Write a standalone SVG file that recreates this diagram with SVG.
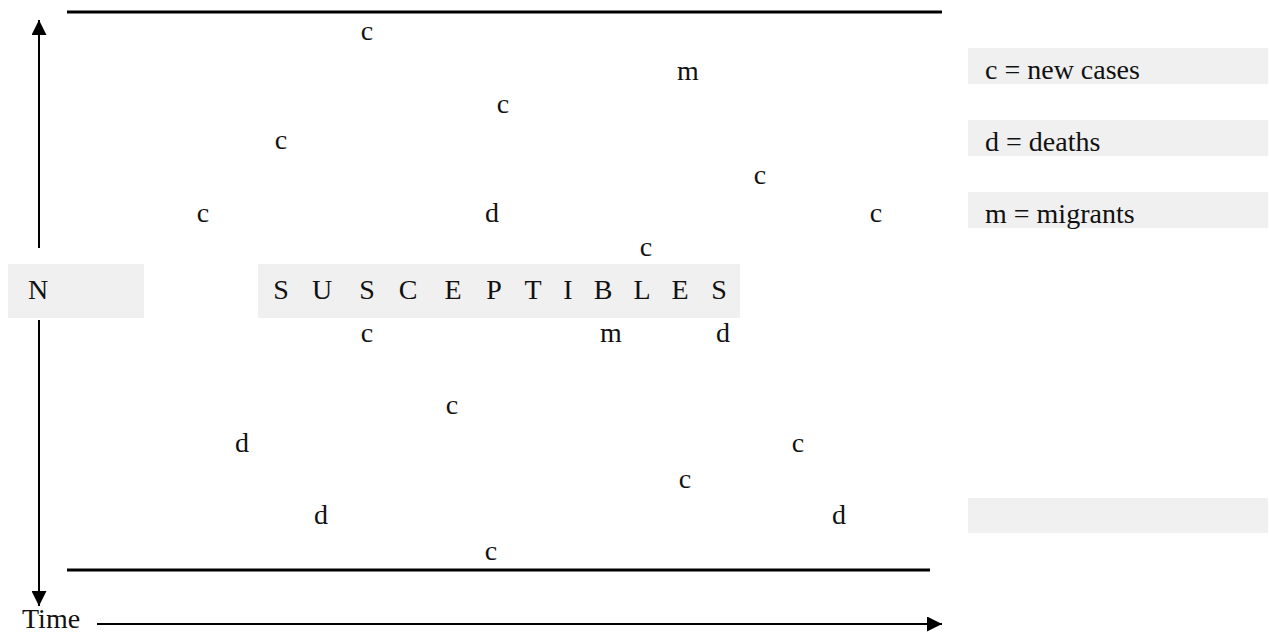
<svg xmlns="http://www.w3.org/2000/svg" width="1269" height="636" viewBox="0 0 1269 636">
<defs>
<style>
text{font-family:"Liberation Serif","Times New Roman",serif;font-size:28px;fill:#111}
.m{text-anchor:middle}
.box{fill:#f0f0f0}
.ln{stroke:#000;stroke-width:3;fill:none}
.ax{stroke:#000;stroke-width:2;fill:none}
</style>
<marker id="ah" viewBox="0 0 10 10" refX="10" refY="5" markerWidth="15" markerHeight="15" markerUnits="userSpaceOnUse" orient="auto"><path d="M0,0 L10,5 L0,10 Z" fill="#000"/></marker>
</defs>
<rect width="1269" height="636" fill="#fff"/>
<g id="connectors">
<line class="ln" x1="67" y1="12" x2="942" y2="12"/>
<line class="ln" x1="67" y1="570" x2="930" y2="570"/>
<line class="ax" x1="39" y1="248" x2="39" y2="20" marker-end="url(#ah)"/>
<line class="ax" x1="39" y1="320" x2="39" y2="606" marker-end="url(#ah)"/>
<line class="ax" x1="97" y1="624" x2="942" y2="624" marker-end="url(#ah)"/>
</g>
<g id="N"><rect class="box" x="8" y="264" width="136" height="54"/><text x="38" y="299" class="m">N</text></g>
<g id="susceptibles"><rect class="box" x="258" y="264" width="482" height="54"/>
<text y="299" class="m"><tspan x="281">S</tspan><tspan x="322">U</tspan><tspan x="367">S</tspan><tspan x="408">C</tspan><tspan x="453">E</tspan><tspan x="494">P</tspan><tspan x="533">T</tspan><tspan x="568">I</tspan><tspan x="603">B</tspan><tspan x="642">L</tspan><tspan x="680">E</tspan><tspan x="719">S</tspan></text></g>
<g id="legend-c"><rect class="box" x="968" y="48" width="300" height="36"/><text x="985" y="79">c = new cases</text></g>
<g id="legend-d"><rect class="box" x="968" y="120" width="300" height="36"/><text x="985" y="151">d = deaths</text></g>
<g id="legend-m"><rect class="box" x="968" y="192" width="300" height="36"/><text x="985" y="223">m = migrants</text></g>
<g id="legend-empty"><rect class="box" x="968" y="498" width="300" height="35"/></g>
<g id="events">
<text class="m" x="367" y="40">c</text>
<text class="m" x="688" y="80">m</text>
<text class="m" x="503" y="113">c</text>
<text class="m" x="281" y="149">c</text>
<text class="m" x="760" y="184">c</text>
<text class="m" x="203" y="222">c</text>
<text class="m" x="492" y="222">d</text>
<text class="m" x="876" y="222">c</text>
<text class="m" x="646" y="256">c</text>
<text class="m" x="367" y="342">c</text>
<text class="m" x="611" y="342">m</text>
<text class="m" x="723" y="342">d</text>
<text class="m" x="452" y="414">c</text>
<text class="m" x="242" y="452">d</text>
<text class="m" x="798" y="452">c</text>
<text class="m" x="685" y="488">c</text>
<text class="m" x="321" y="524">d</text>
<text class="m" x="839" y="524">d</text>
<text class="m" x="491" y="560">c</text>
</g>
<g id="time"><text x="22" y="628">Time</text></g>
</svg>
